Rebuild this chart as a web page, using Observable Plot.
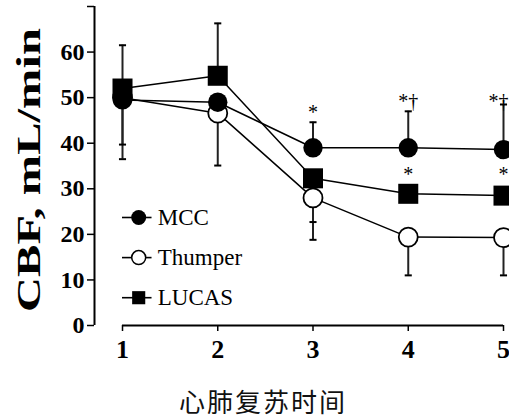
<!DOCTYPE html>
<html><head><meta charset="utf-8">
<script src="https://cdn.jsdelivr.net/npm/d3@7"></script>
<script src="https://cdn.jsdelivr.net/npm/@observablehq/plot@0.6"></script>
<style>
body{margin:0;background:#fff;width:509px;height:418px;overflow:hidden}
#cap{font-family:"Noto Sans CJK SC",sans-serif;font-size:26px;letter-spacing:2px;text-align:center;padding-left:17px;line-height:26px;padding-top:14px;color:#111}
svg text{font-family:"Liberation Serif",serif}
</style>
</head><body><div id="chart"></div><div id="cap">心肺复苏时间</div>
<script>
// ---- data ----
const timepoints = [1, 2, 3, 4, 5];
const seriesNames = ["MCC", "Thumper", "LUCAS"];
const mcc = [49.5, 49, 39, 39, 38.6];
const thumper = [50, 46.6, 28, 19.4, 19.3];
const lucas = [52, 54.8, 32.3, 28.9, 28.5];
const yTicks = [0, 10, 20, 30, 40, 50, 60, 70];
const xTicks = [1, 2, 3, 4, 5];
// error bar ends (SD)
const errX = [1, 1, 1, 2, 2, 3, 3, 3, 4, 4, 5, 5];
const errSeries = ["LUCAS", "Thumper", "MCC", "LUCAS", "Thumper", "MCC", "Thumper", "LUCAS", "MCC", "Thumper", "MCC", "Thumper"];
const errEnd = [61.5, 36.5, 39.7, 66.3, 35.1, 44.6, 18.8, 22.7, 47, 11, 48.5, 11];
// significance marks
const noteX = [3, 4, 5, 4, 5];
const noteY = [46.8, 49.2, 49.2, 33.1, 33.1];
const noteText = ["*", "*†", "*†", "*", "*"];

const valuesBy = {MCC: mcc, Thumper: thumper, LUCAS: lucas};
const rows = seriesNames.flatMap(s => timepoints.map((t, i) => ({series: s, t, v: valuesBy[s][i]})));
const errRows = errX.map((t, i) => ({t, series: errSeries[i], v: valuesBy[errSeries[i]][timepoints.indexOf(t)], end: errEnd[i]}));
const notes = noteX.map((t, i) => ({t, y: noteY[i], s: noteText[i]}));
const lastT = timepoints[timepoints.length - 1];
const legendY = [23.7, 14.9, 6.1];
const legendRows = seriesNames.map((s, i) => ({series: s, ly: legendY[i]}));

const hline = {draw(ctx, size) { const w = Math.sqrt(size) / 2; ctx.moveTo(-w, 0); ctx.lineTo(w, 0); }};
const xDomain = [0.706, 5.063];
const serif = "Liberation Serif";

const marks = [
  Plot.ruleX([xDomain[0]], {y1: 0, y2: 70, stroke: "black", strokeWidth: 2}),
  Plot.axisY(yTicks, {tickSize: 7, tickPadding: 3, fontSize: 24, fontWeight: "bold", label: null, strokeWidth: 1.5, tickFormat: d => d === 70 ? "" : d}),
  Plot.ruleY([0], {x1: timepoints[0], x2: lastT, stroke: "black", strokeWidth: 2}),
  Plot.axisX(xTicks, {tickSize: 6, tickPadding: 8, fontSize: 26, fontWeight: "bold", label: null, strokeWidth: 1.5, tickFormat: d => d}),
  Plot.text(["CBF, mL/min"], {frameAnchor: "left", dx: -65, dy: 146, rotate: -90, textAnchor: "start", fontSize: 34, fontWeight: "bold", fontFamily: serif, className: "ylab"}),
  Plot.ruleX(errRows, {x: "t", y1: "v", y2: "end", stroke: "#222", strokeWidth: 2}),
  Plot.dot(errRows, {x: "t", y: "end", symbol: hline, r: 4, stroke: "black", strokeWidth: 2}),
  Plot.line(rows, {x: "t", y: "v", z: "series", stroke: "black", strokeWidth: 1.5}),
  Plot.dot(rows.filter(d => d.series === "Thumper"), {x: "t", y: "v", r: 9.5, fill: "white", stroke: "black", strokeWidth: 1.8}),
  Plot.dot(rows.filter(d => d.series === "LUCAS"), {x: "t", y: "v", symbol: "square", r: 11.3, fill: "black"}),
  Plot.dot(rows.filter(d => d.series === "MCC"), {x: "t", y: "v", r: 9.7, fill: "black"}),
  Plot.text(notes.filter(d => d.t !== lastT), {x: "t", y: "y", text: "s", fontSize: 20, fontFamily: serif}),
  Plot.text(notes.filter(d => d.t === lastT), {x: "t", y: "y", text: "s", fontSize: 20, fontFamily: serif, textAnchor: "end", dx: 5}),
  // legend
  Plot.ruleY(legendRows, {y: "ly", x1: 1.0, x2: 1.31, stroke: "black", strokeWidth: 1.6}),
  Plot.dot(legendRows.filter(d => d.series === "MCC"), {x: 1.17, y: "ly", r: 7.5, fill: "black"}),
  Plot.dot(legendRows.filter(d => d.series === "Thumper"), {x: 1.17, y: "ly", r: 7, fill: "white", stroke: "black", strokeWidth: 1.5}),
  Plot.dot(legendRows.filter(d => d.series === "LUCAS"), {x: 1.17, y: "ly", symbol: "square", r: 7.4, fill: "black"}),
  Plot.text(legendRows, {x: 1.37, y: "ly", text: "series", textAnchor: "start", fontSize: 23, fontFamily: serif})
];

const chart = Plot.plot({
  width: 509, height: 374,
  marginLeft: 94, marginRight: 0, marginTop: 6, marginBottom: 49,
  x: {domain: xDomain},
  y: {domain: [0, 70]},
  style: {fontFamily: serif, background: "white", color: "black", overflow: "visible"},
  marks
});
document.getElementById("chart").appendChild(chart);
const yl = chart.querySelector(".ylab text");
if (yl) { yl.setAttribute("textLength", 284); yl.setAttribute("lengthAdjust", "spacingAndGlyphs"); }
</script>
</body></html>
